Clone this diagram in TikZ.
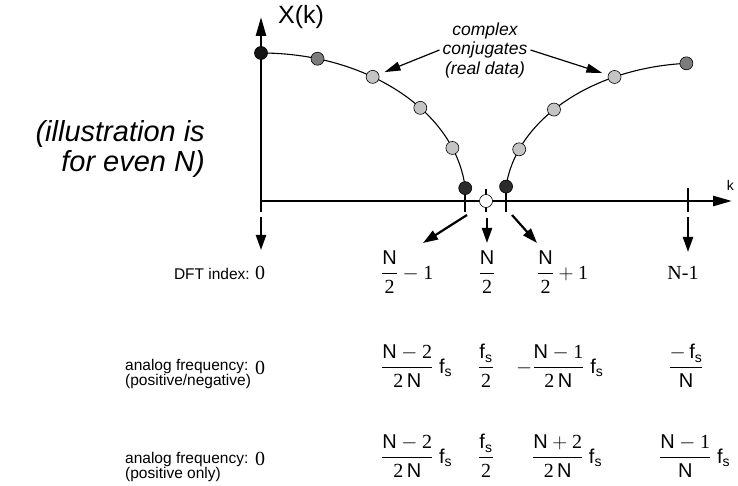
\documentclass[tikz,border=0pt]{standalone}
\usepackage{amsmath}
\usepackage{fontspec}
\setmainfont{Liberation Serif}
\setsansfont{Liberation Sans}
\usepackage{tikz}
\usetikzlibrary{positioning,arrows.meta,calc}
\usepackage{xcolor}

\definecolor{dotblack}{HTML}{141414}
\definecolor{dotdark}{HTML}{2B2B2B}
\definecolor{dotmid}{HTML}{7C7C7C}
\definecolor{dotlight}{HTML}{C4C4C4}

\newcommand{\nN}{\textsf{N}}
\newcommand{\fsamp}{\textsf{f}_{\textsf{s}}}
\newcommand{\dg}[1]{\textrm{#1}}

\begin{document}
\begin{tikzpicture}[
    x=1pt, y=1pt,
    axis/.style={line width=2.6pt, -{Triangle[length=19pt,width=10pt]}},
    tickmark/.style={line width=2.4pt},
    curve/.style={line width=1.1pt},
    sample/.style={circle, draw, line width=0.6pt, inner sep=0pt, minimum size=13pt},
    pointer/.style={line width=2.2pt, -{Triangle[length=15pt,width=10pt]}},
    callout/.style={line width=1.2pt, -{Triangle[length=16pt,width=9pt]}, shorten >=6pt},
    lbl/.style={font=\sffamily\fontsize{15.5}{16}\selectfont, inner sep=0pt},
    note/.style={font=\sffamily\itshape\fontsize{17.5}{19.5}\selectfont, align=center, inner sep=3pt},
    big/.style={font=\sffamily\itshape\fontsize{29}{30}\selectfont, align=right, inner sep=0pt},
    val/.style={font=\fontsize{20}{24}\selectfont, inner sep=0pt},
    frq/.style={font=\fontsize{20}{24}\selectfont, inner sep=0pt}
]
\useasboundingbox (0,0) rectangle (738,485);

% ----- Axes -----
\coordinate (origin) at (261,284);
\coordinate (base) at (261,273);
\coordinate (ytop) at (261,468);
\coordinate (xend) at (732,284);
\draw[axis] (base) -- (ytop);
\draw[axis] (origin) -- (xend);
\node[font=\sffamily\fontsize{25}{27}\selectfont, inner sep=0pt, right=17pt of ytop] (xk) {X(k)};
\node[font=\sffamily\fontsize{14}{16}\selectfont, inner sep=0pt, above left=10pt and -2pt of xend] (kk) {k};

% ----- Curves -----
\coordinate (rc) at (700,284);
\draw[curve] ($(origin)+(90:205 and 148)$) arc[start angle=90, end angle=5, x radius=205, y radius=148];
\draw[curve] ($(rc)+(174:195 and 138)$) arc[start angle=174, end angle=94, x radius=195, y radius=138];

% ----- Ticks -----
\coordinate (half) at (486,284);
\coordinate (last) at (688,284);
\draw[tickmark] (half |- base) -- ++(0,23);
\draw[tickmark] (last |- base) -- ++(0,24);

% ----- Samples -----
\foreach \ang/\col [count=\i] in {90/dotblack, 74/dotmid, 57/dotlight, 39/dotlight, 21/dotlight, 5/dotdark}{
    \node[sample, fill=\col] (L\i) at ($(origin)+(\ang:205 and 148)$) {};
}
\foreach \ang/\col [count=\i] in {174/dotdark, 158/dotlight, 138.5/dotlight, 116/dotlight, 94/dotmid}{
    \node[sample, fill=\col] (R\i) at ($(rc)+(\ang:195 and 138)$) {};
}
\node[sample, fill=white] (H) at (half) {};
\draw[tickmark] (L6.south) -- (L6.south |- base);
\draw[tickmark] (R1.south) -- (R1.south |- base);

% ----- Pointers -----
\coordinate (p0) at (261,268);  \coordinate (q0) at (261,235);
\coordinate (p1) at (467,270);  \coordinate (q1) at (423,242);
\coordinate (p2) at (487,267);  \coordinate (q2) at (487,242);
\coordinate (p3) at (512,270);  \coordinate (q3) at (537,242);
\coordinate (p4) at (688,268);  \coordinate (q4) at (688,233);
\foreach \i in {0,...,4}{
    \draw[pointer] (p\i) -- (q\i);
}

% ----- Notes -----
\node[note] (conj) at (485,435) {complex\\conjugates\\(real data)};
\draw[callout] (conj.west) -- (L3);
\draw[callout] (conj.east) -- (R4);
\node[big, anchor=east] (even) at (205,336) {(illustration is\\for even N)};

% ----- DFT index -----
\node[lbl, anchor=base east] (dft) at (250,206) {DFT index:};
\node[val, anchor=base] (i0) at (260,206) {0};
\node[val, anchor=base west] (i1) at (381,206) {$\dfrac{\nN}{\dg{2}}-\dg{1}$};
\node[val, anchor=base] (i2) at (487,206) {$\dfrac{\nN}{\dg{2}}$};
\node[val, anchor=base west] (i3) at (537,206) {$\dfrac{\nN}{\dg{2}}+\dg{1}$};
\node[val, anchor=base] (i4) at (683,206) {N-1};

% ----- Analog frequency (positive/negative) -----
\node[lbl, anchor=base west] (af1) at (125,115) {analog frequency:};
\node[lbl, anchor=base west] (pn) at ([yshift=-15pt]af1.base west) {(positive/negative)};
\node[val, anchor=base] (a0) at (260,111) {0};
\node[frq, anchor=base west] (a1) at (381,112) {$\dfrac{\nN-\dg{2}}{\dg{2}\,\nN}\;\fsamp$};
\node[frq, anchor=base] (a2) at (486,112) {$\dfrac{\fsamp}{\dg{2}}$};
\node[frq, anchor=base west] (a3) at (516,112) {$-\dfrac{\nN-\dg{1}}{\dg{2}\,\nN}\;\fsamp$};
\node[frq, anchor=base] (a4) at (686,112) {$\dfrac{-\,\fsamp}{\nN}$};

% ----- Analog frequency (positive only) -----
\node[lbl, anchor=base west] (af2) at (125,22) {analog frequency:};
\node[lbl, anchor=base west] (po) at ([yshift=-15pt]af2.base west) {(positive only)};
\node[val, anchor=base] (b0) at (260,20) {0};
\node[frq, anchor=base west] (b1) at (381,22) {$\dfrac{\nN-\dg{2}}{\dg{2}\,\nN}\;\fsamp$};
\node[frq, anchor=base] (b2) at (486,22) {$\dfrac{\fsamp}{\dg{2}}$};
\node[frq, anchor=base west] (b3) at (532,22) {$\dfrac{\nN+\dg{2}}{\dg{2}\,\nN}\;\fsamp$};
\node[frq, anchor=base west] (b4) at (659,22) {$\dfrac{\nN-\dg{1}}{\nN}\;\fsamp$};

\end{tikzpicture}
\end{document}
